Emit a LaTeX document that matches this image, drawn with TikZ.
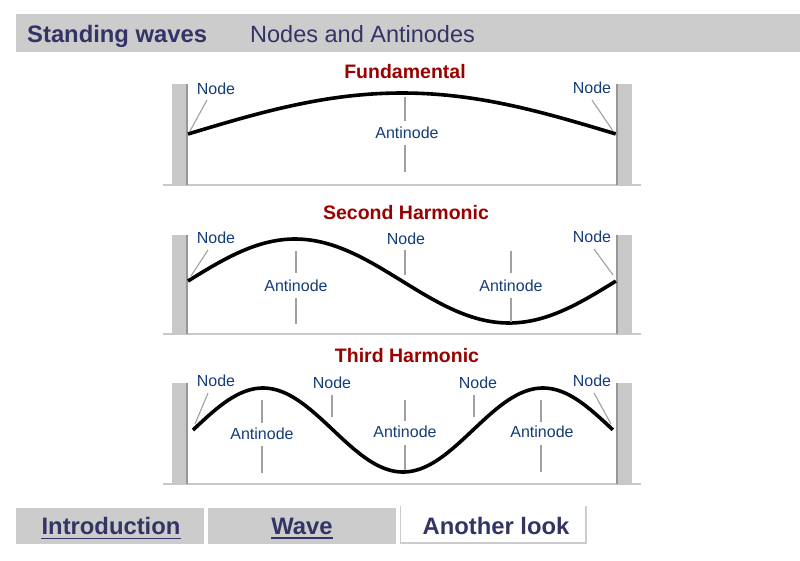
\documentclass[tikz,border=0pt]{standalone}
\usepackage{fontspec}
\setmainfont{Liberation Sans}
\definecolor{barg}{RGB}{204,204,204}
\definecolor{wallg}{RGB}{200,200,200}
\definecolor{walld}{RGB}{150,150,150}
\definecolor{leadg}{RGB}{160,160,160}
\definecolor{navy}{RGB}{51,51,102}
\definecolor{titred}{RGB}{153,0,0}
\definecolor{lblblue}{RGB}{20,60,120}
\begin{document}
\begin{tikzpicture}[x=1pt,y=-1pt,
  hdr/.style={anchor=base west,text=navy,inner sep=0pt,font=\fontsize{23.5}{26}\selectfont},
  ttl/.style={text=titred,inner sep=0pt,font=\fontsize{19.5}{22}\bfseries\selectfont},
  lbl/.style={text=lblblue,inner sep=0pt,font=\fontsize{16}{18}\selectfont},
  lead/.style={draw=leadg,line width=1.1pt},
  wave/.style={line width=3.6pt,black},
  tabt/.style={text=navy,inner sep=0pt,font=\fontsize{23.8}{26}\bfseries\selectfont},
  uline/.style={navy,line width=1.8pt}]
\useasboundingbox (0,0) rectangle (800,560);
% header
\fill[barg] (16,14) rectangle (800,52);
\node[hdr,font=\fontsize{23.8}{26}\bfseries\selectfont] (h1) at (27,42) {Standing waves};
\node[hdr] (h2) at (250,42) {Nodes and Antinodes};
% walls
\newcommand\mywalls[2]{%
  \fill[wallg] (163,#2-1) rectangle (641,#2+1);
  \fill[wallg] (172,#1) rectangle (188,#2);
  \fill[walld] (186,#1) rectangle (188,#2);
  \fill[wallg] (616,#1) rectangle (632,#2);
  \fill[walld] (616,#1) rectangle (618,#2);}
\mywalls{84}{185}
\mywalls{235}{334}
\mywalls{383}{484}
% titles
\node[ttl] (t1) at (405,72) {Fundamental};
\node[ttl] (t2) at (406,213) {Second Harmonic};
\node[ttl] (t3) at (407,356) {Third Harmonic};
% fundamental
\draw[wave] plot[domain=0:1,samples=80] ({188+428*\x},{134-41*sin(180*\x)});
\node[lbl] (f1) at (216,89) {Node};
\node[lbl] (f2) at (592,88) {Node};
\node[lbl] (fa) at (407,133) {Antinode};
\coordinate (f1e) at (190,131);
\coordinate (f2e) at (613,131);
\draw[lead] (207,100) -- (f1e);
\draw[lead] (592,100) -- (f2e);
\draw[lead] (405,97) -- (405,121);
\draw[lead] (405,145) -- (405,172);
% second harmonic
\draw[wave] plot[domain=0:2,samples=120] ({188+214*\x},{281-42*sin(180*\x)});
\node[lbl] (s1) at (216,238) {Node};
\node[lbl] (s2) at (406,239) {Node};
\node[lbl] (s3) at (592,237) {Node};
\node[lbl] (sa1) at (296,286) {Antinode};
\node[lbl] (sa2) at (511,286) {Antinode};
\coordinate (s1e) at (191,276);
\coordinate (s3e) at (613,275);
\draw[lead] (208,250) -- (s1e);
\draw[lead] (594,249) -- (s3e);
\draw[lead] (405,250) -- (405,275);
\draw[lead] (296,251) -- (296,273);
\draw[lead] (296,298) -- (296,324);
\draw[lead] (511,251) -- (511,273);
\draw[lead] (511,298) -- (511,322);
% third harmonic
\draw[wave] plot[domain=0:3,samples=160] ({193+140*\x},{430-42*sin(180*\x)});
\node[lbl] (r1) at (216,381) {Node};
\node[lbl] (r2) at (332,383) {Node};
\node[lbl] (r3) at (478,383) {Node};
\node[lbl] (r4) at (592,381) {Node};
\node[lbl] (ra1) at (262,434) {Antinode};
\node[lbl] (ra2) at (405,432) {Antinode};
\node[lbl] (ra3) at (542,432) {Antinode};
\coordinate (r1e) at (195,424);
\coordinate (r4e) at (611,424);
\draw[lead] (208,393) -- (r1e);
\draw[lead] (594,393) -- (r4e);
\draw[lead] (332,395) -- (332,417);
\draw[lead] (474,395) -- (474,417);
\draw[lead] (262,400) -- (262,423);
\draw[lead] (262,446) -- (262,473);
\draw[lead] (405,400) -- (405,421);
\draw[lead] (405,445) -- (405,470);
\draw[lead] (541,400) -- (541,422);
\draw[lead] (541,445) -- (541,472);
% tabs
\fill[barg] (16,508) rectangle (204,544);
\fill[barg] (208,508) rectangle (396,544);
\draw[barg,line width=1pt] (400.5,506) -- (400.5,544);
\draw[barg,line width=2pt] (586,506) -- (586,543) -- (400,543);
\node[tabt] (tb1) at (111,526) {Introduction};
\node[tabt] (tb2) at (302,526) {Wave};
\node[tabt] (tb3) at (496,526) {Another look};
\draw[uline] ([yshift=-4pt]tb1.base west) -- ([yshift=-4pt]tb1.base east);
\draw[uline] ([yshift=-4pt]tb2.base west) -- ([yshift=-4pt]tb2.base east);
\end{tikzpicture}
\end{document}
